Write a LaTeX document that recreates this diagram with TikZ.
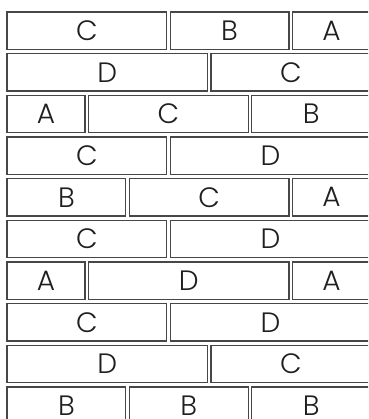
\documentclass[tikz,border=0pt]{standalone}
\usepackage{fontspec}
\IfFontExistsTF{Poppins Light}{\setmainfont{Poppins Light}}{\setmainfont{Poppins}}
\tikzset{
  brick/.style={draw=black!72, line width=1.1pt, fill=white, minimum height=37.3pt,
    inner sep=0pt, outer sep=0pt, anchor=north west,
    font=\fontsize{28}{28}\selectfont, text=black!88}
}
\begin{document}
\begin{tikzpicture}[x=1pt,y=-1pt]
\useasboundingbox (0,0) rectangle (368,419);
\clip (0,0) rectangle (368,419);
\foreach \r/\s/\n/\t [count=\i] in {
  1/0/4/C, 1/4/3/B, 1/7/2/A,
  2/0/5/D, 2/5/4/C,
  3/0/2/A, 3/2/4/C, 3/6/3/B,
  4/0/4/C, 4/4/5/D,
  5/0/3/B, 5/3/4/C, 5/7/2/A,
  6/0/4/C, 6/4/5/D,
  7/0/2/A, 7/2/5/D, 7/7/2/A,
  8/0/4/C, 8/4/5/D,
  9/0/5/D, 9/5/4/C,
  10/0/3/B, 10/3/3/B, 10/6/3/B} {
  \node[brick, minimum width={\n*40.8pt-3.6pt}] (b\i) at ({7+\s*40.8},{12+(\r-1)*41.67}) {\t};
}
\end{tikzpicture}
\end{document}
